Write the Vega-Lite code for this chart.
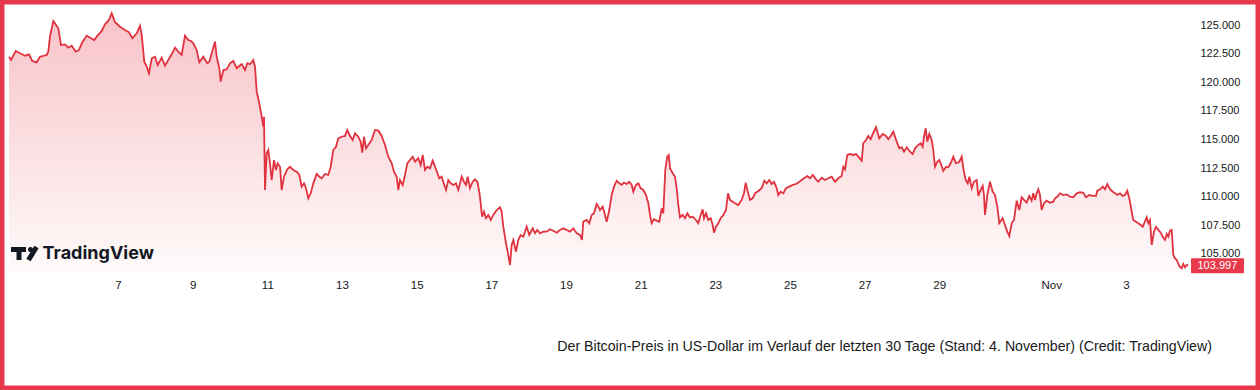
{
  "$schema": "https://vega.github.io/schema/vega-lite/v6.json",
  "width": 1260,
  "height": 390,
  "autosize": {"type": "none"},
  "padding": 0,
  "background": "white",
  "config": {
    "view": {"stroke": "#e8394a", "strokeWidth": 9},
    "axis": {"domain": false, "ticks": false, "grid": false, "labelColor": "#131722", "labelFont": "Liberation Sans"}
  },
  "data": {"values": [
    {"d":4.08,"p":122230},{"d":4.134,"p":121940},{"d":4.26,"p":122730},{"d":4.375,"p":122530},{"d":4.509,"p":122320},{"d":4.616,"p":122440},{"d":4.704,"p":121860},{"d":4.822,"p":121740},{"d":4.91,"p":122230},{"d":5.09,"p":122380},{"d":5.133,"p":122670},{"d":5.178,"p":123980},{"d":5.267,"p":125350},{"d":5.401,"p":124710},{"d":5.473,"p":123250},{"d":5.58,"p":123310},{"d":5.669,"p":123020},{"d":5.76,"p":123190},{"d":5.867,"p":122670},{"d":5.955,"p":122820},{"d":6.044,"p":123490},{"d":6.161,"p":124070},{"d":6.277,"p":123840},{"d":6.365,"p":123690},{"d":6.43,"p":123980},{"d":6.563,"p":124480},{"d":6.652,"p":125060},{"d":6.759,"p":125440},{"d":6.831,"p":126020},{"d":6.92,"p":125240},{"d":7.054,"p":124850},{"d":7.188,"p":124560},{"d":7.295,"p":124360},{"d":7.383,"p":123840},{"d":7.501,"p":124280},{"d":7.589,"p":124940},{"d":7.635,"p":124130},{"d":7.704,"p":121800},{"d":7.769,"p":121360},{"d":7.83,"p":120780},{"d":7.903,"p":122090},{"d":7.991,"p":122230},{"d":8.063,"p":121510},{"d":8.171,"p":122140},{"d":8.259,"p":121450},{"d":8.347,"p":121940},{"d":8.439,"p":122440},{"d":8.527,"p":123020},{"d":8.615,"p":122670},{"d":8.706,"p":122380},{"d":8.795,"p":124070},{"d":8.883,"p":123690},{"d":8.956,"p":123600},{"d":9.017,"p":123400},{"d":9.108,"p":122820},{"d":9.178,"p":121740},{"d":9.285,"p":122230},{"d":9.392,"p":121660},{"d":9.446,"p":121800},{"d":9.537,"p":122820},{"d":9.598,"p":123540},{"d":9.644,"p":122230},{"d":9.714,"p":121220},{"d":9.751,"p":120050},{"d":9.821,"p":121070},{"d":9.912,"p":121130},{"d":10.0,"p":121660},{"d":10.089,"p":121860},{"d":10.18,"p":121220},{"d":10.249,"p":121420},{"d":10.314,"p":121590},{"d":10.402,"p":121070},{"d":10.464,"p":121660},{"d":10.536,"p":121570},{"d":10.624,"p":121940},{"d":10.67,"p":121360},{"d":10.716,"p":119180},{"d":10.785,"p":118160},{"d":10.849,"p":116990},{"d":10.892,"p":116120},{"d":10.911,"p":116990},{"d":10.938,"p":110590},{"d":10.983,"p":113790},{"d":11.026,"p":114080},{"d":11.072,"p":112920},{"d":11.117,"p":111460},{"d":11.179,"p":113210},{"d":11.232,"p":112340},{"d":11.278,"p":112920},{"d":11.34,"p":112620},{"d":11.385,"p":110590},{"d":11.447,"p":111750},{"d":11.535,"p":112400},{"d":11.608,"p":112620},{"d":11.696,"p":112340},{"d":11.787,"p":112190},{"d":11.857,"p":111900},{"d":11.921,"p":110880},{"d":11.983,"p":111170},{"d":12.036,"p":110740},{"d":12.098,"p":109860},{"d":12.162,"p":110300},{"d":12.232,"p":111170},{"d":12.323,"p":111990},{"d":12.392,"p":111750},{"d":12.456,"p":111610},{"d":12.545,"p":111990},{"d":12.633,"p":111900},{"d":12.698,"p":112620},{"d":12.767,"p":114080},{"d":12.84,"p":114370},{"d":12.901,"p":115100},{"d":12.992,"p":115240},{"d":13.081,"p":115310},{"d":13.142,"p":115830},{"d":13.215,"p":115310},{"d":13.287,"p":114960},{"d":13.349,"p":115540},{"d":13.437,"p":115240},{"d":13.501,"p":114810},{"d":13.544,"p":113850},{"d":13.59,"p":115240},{"d":13.643,"p":114230},{"d":13.705,"p":114520},{"d":13.796,"p":114960},{"d":13.884,"p":115830},{"d":13.973,"p":115770},{"d":14.064,"p":115310},{"d":14.152,"p":114520},{"d":14.241,"p":113500},{"d":14.332,"p":112920},{"d":14.393,"p":112190},{"d":14.466,"p":111750},{"d":14.508,"p":110590},{"d":14.554,"p":111460},{"d":14.626,"p":111030},{"d":14.688,"p":111900},{"d":14.75,"p":112920},{"d":14.822,"p":113210},{"d":14.894,"p":113500},{"d":14.956,"p":113060},{"d":15.044,"p":113360},{"d":15.109,"p":112770},{"d":15.162,"p":113650},{"d":15.224,"p":112340},{"d":15.285,"p":112620},{"d":15.358,"p":112480},{"d":15.43,"p":113150},{"d":15.518,"p":112400},{"d":15.607,"p":111610},{"d":15.671,"p":111750},{"d":15.741,"p":111030},{"d":15.786,"p":110590},{"d":15.848,"p":111460},{"d":15.912,"p":111170},{"d":15.982,"p":111030},{"d":16.054,"p":111170},{"d":16.116,"p":110590},{"d":16.207,"p":111750},{"d":16.268,"p":111310},{"d":16.322,"p":111030},{"d":16.367,"p":111750},{"d":16.429,"p":110740},{"d":16.502,"p":111310},{"d":16.563,"p":111520},{"d":16.625,"p":111310},{"d":16.678,"p":110440},{"d":16.716,"p":109430},{"d":16.751,"p":108260},{"d":16.804,"p":108690},{"d":16.858,"p":108120},{"d":16.919,"p":108410},{"d":16.984,"p":107970},{"d":17.053,"p":108410},{"d":17.144,"p":108840},{"d":17.233,"p":109080},{"d":17.278,"p":108690},{"d":17.321,"p":107380},{"d":17.394,"p":105930},{"d":17.455,"p":104910},{"d":17.501,"p":104040},{"d":17.546,"p":105790},{"d":17.589,"p":106220},{"d":17.661,"p":105200},{"d":17.723,"p":106220},{"d":17.788,"p":106660},{"d":17.857,"p":106510},{"d":17.948,"p":107380},{"d":18.018,"p":106660},{"d":18.109,"p":107240},{"d":18.171,"p":106810},{"d":18.232,"p":107100},{"d":18.305,"p":106810},{"d":18.393,"p":106950},{"d":18.484,"p":106950},{"d":18.572,"p":107160},{"d":18.661,"p":107030},{"d":18.752,"p":106860},{"d":18.84,"p":107100},{"d":18.929,"p":107240},{"d":19.02,"p":107100},{"d":19.108,"p":106950},{"d":19.197,"p":107240},{"d":19.288,"p":106810},{"d":19.376,"p":106660},{"d":19.43,"p":106220},{"d":19.464,"p":107820},{"d":19.556,"p":107970},{"d":19.625,"p":107680},{"d":19.689,"p":108410},{"d":19.751,"p":108550},{"d":19.823,"p":109370},{"d":19.893,"p":108990},{"d":19.912,"p":108840},{"d":19.984,"p":109130},{"d":20.046,"p":108410},{"d":20.091,"p":107820},{"d":20.161,"p":108840},{"d":20.225,"p":110150},{"d":20.287,"p":110880},{"d":20.359,"p":111400},{"d":20.429,"p":111170},{"d":20.493,"p":111030},{"d":20.555,"p":111230},{"d":20.627,"p":111110},{"d":20.697,"p":111310},{"d":20.761,"p":111030},{"d":20.804,"p":110440},{"d":20.876,"p":111030},{"d":20.938,"p":111170},{"d":21.002,"p":110740},{"d":21.072,"p":110590},{"d":21.144,"p":110150},{"d":21.206,"p":109430},{"d":21.251,"p":108410},{"d":21.296,"p":107680},{"d":21.358,"p":108030},{"d":21.43,"p":107910},{"d":21.5,"p":107820},{"d":21.565,"p":108990},{"d":21.607,"p":108550},{"d":21.661,"p":112340},{"d":21.714,"p":113500},{"d":21.752,"p":113650},{"d":21.787,"p":112480},{"d":21.859,"p":112050},{"d":21.92,"p":111750},{"d":21.966,"p":110740},{"d":22.009,"p":109280},{"d":22.055,"p":108200},{"d":22.127,"p":108410},{"d":22.189,"p":108120},{"d":22.25,"p":108550},{"d":22.322,"p":108200},{"d":22.395,"p":108260},{"d":22.483,"p":107970},{"d":22.545,"p":107680},{"d":22.609,"p":108410},{"d":22.663,"p":108900},{"d":22.698,"p":108120},{"d":22.752,"p":108550},{"d":22.813,"p":107970},{"d":22.877,"p":108120},{"d":22.931,"p":107530},{"d":22.966,"p":106860},{"d":23.019,"p":107380},{"d":23.081,"p":107680},{"d":23.145,"p":108120},{"d":23.215,"p":108410},{"d":23.287,"p":108840},{"d":23.341,"p":110300},{"d":23.394,"p":109720},{"d":23.467,"p":109570},{"d":23.528,"p":109430},{"d":23.617,"p":109280},{"d":23.707,"p":109720},{"d":23.769,"p":110300},{"d":23.815,"p":111230},{"d":23.858,"p":110590},{"d":23.93,"p":109720},{"d":24.002,"p":109860},{"d":24.064,"p":110300},{"d":24.152,"p":110500},{"d":24.243,"p":110740},{"d":24.313,"p":111400},{"d":24.377,"p":111170},{"d":24.447,"p":111460},{"d":24.511,"p":111110},{"d":24.573,"p":111310},{"d":24.645,"p":110740},{"d":24.688,"p":110150},{"d":24.752,"p":110440},{"d":24.822,"p":110300},{"d":24.894,"p":110740},{"d":24.983,"p":110880},{"d":25.074,"p":111030},{"d":25.162,"p":111110},{"d":25.251,"p":111310},{"d":25.377,"p":111610},{"d":25.465,"p":111810},{"d":25.537,"p":111610},{"d":25.61,"p":111900},{"d":25.698,"p":111520},{"d":25.76,"p":111310},{"d":25.851,"p":111660},{"d":25.939,"p":111460},{"d":26.028,"p":111610},{"d":26.118,"p":111750},{"d":26.207,"p":111310},{"d":26.296,"p":111610},{"d":26.386,"p":111810},{"d":26.429,"p":112620},{"d":26.475,"p":112400},{"d":26.536,"p":113650},{"d":26.608,"p":113730},{"d":26.697,"p":113650},{"d":26.77,"p":113730},{"d":26.831,"p":113500},{"d":26.922,"p":113150},{"d":26.965,"p":114670},{"d":27.038,"p":114960},{"d":27.099,"p":115310},{"d":27.163,"p":115020},{"d":27.233,"p":115590},{"d":27.305,"p":116070},{"d":27.394,"p":115100},{"d":27.485,"p":115480},{"d":27.573,"p":115310},{"d":27.635,"p":115020},{"d":27.699,"p":115310},{"d":27.769,"p":115680},{"d":27.86,"p":114810},{"d":27.93,"p":114230},{"d":27.994,"p":114320},{"d":28.055,"p":113930},{"d":28.128,"p":114320},{"d":28.216,"p":113930},{"d":28.288,"p":113730},{"d":28.35,"p":114230},{"d":28.438,"p":114520},{"d":28.503,"p":114670},{"d":28.556,"p":114370},{"d":28.591,"p":115240},{"d":28.637,"p":115980},{"d":28.68,"p":114810},{"d":28.733,"p":115480},{"d":28.797,"p":114960},{"d":28.841,"p":114080},{"d":28.886,"p":112620},{"d":28.948,"p":113060},{"d":29.0,"p":113210},{"d":29.065,"p":112690},{"d":29.108,"p":112250},{"d":29.181,"p":112620},{"d":29.242,"p":112570},{"d":29.306,"p":112920},{"d":29.376,"p":113500},{"d":29.448,"p":112920},{"d":29.537,"p":113060},{"d":29.601,"p":113500},{"d":29.644,"p":112480},{"d":29.708,"p":111460},{"d":29.762,"p":111170},{"d":29.805,"p":111750},{"d":29.869,"p":110740},{"d":29.931,"p":111310},{"d":30.003,"p":111460},{"d":30.046,"p":110070},{"d":30.11,"p":110590},{"d":30.164,"p":110940},{"d":30.198,"p":110150},{"d":30.225,"p":108410},{"d":30.287,"p":110150},{"d":30.359,"p":111310},{"d":30.431,"p":110440},{"d":30.493,"p":110150},{"d":30.555,"p":109130},{"d":30.608,"p":107680},{"d":30.699,"p":108120},{"d":30.761,"p":107530},{"d":30.822,"p":106950},{"d":30.876,"p":106570},{"d":30.94,"p":107680},{"d":31.002,"p":107970},{"d":31.074,"p":109660},{"d":31.144,"p":108840},{"d":31.208,"p":109950},{"d":31.27,"p":109720},{"d":31.341,"p":109480},{"d":31.411,"p":110070},{"d":31.475,"p":109660},{"d":31.519,"p":110300},{"d":31.564,"p":109720},{"d":31.61,"p":110300},{"d":31.653,"p":110650},{"d":31.698,"p":110150},{"d":31.744,"p":108840},{"d":31.806,"p":109430},{"d":31.877,"p":109660},{"d":31.966,"p":109480},{"d":32.055,"p":109570},{"d":32.1,"p":109860},{"d":32.162,"p":110000},{"d":32.234,"p":110300},{"d":32.323,"p":110150},{"d":32.413,"p":110210},{"d":32.502,"p":110000},{"d":32.59,"p":109950},{"d":32.681,"p":110300},{"d":32.77,"p":110390},{"d":32.858,"p":110350},{"d":32.931,"p":109950},{"d":33.019,"p":110150},{"d":33.11,"p":110070},{"d":33.198,"p":110070},{"d":33.234,"p":110530},{"d":33.307,"p":110650},{"d":33.379,"p":110880},{"d":33.44,"p":110650},{"d":33.502,"p":111110},{"d":33.574,"p":110650},{"d":33.647,"p":110440},{"d":33.708,"p":110300},{"d":33.77,"p":110150},{"d":33.841,"p":110300},{"d":33.914,"p":110070},{"d":33.975,"p":110150},{"d":34.037,"p":110530},{"d":34.091,"p":109860},{"d":34.155,"p":108690},{"d":34.198,"p":107970},{"d":34.27,"p":107820},{"d":34.332,"p":107680},{"d":34.396,"p":107530},{"d":34.45,"p":107380},{"d":34.511,"p":107820},{"d":34.557,"p":108200},{"d":34.6,"p":107680},{"d":34.645,"p":107970},{"d":34.691,"p":105790},{"d":34.752,"p":106950},{"d":34.806,"p":107380},{"d":34.868,"p":107100},{"d":34.932,"p":106860},{"d":34.986,"p":106510},{"d":35.047,"p":106220},{"d":35.093,"p":106750},{"d":35.136,"p":106510},{"d":35.18,"p":107030},{"d":35.226,"p":107100},{"d":35.269,"p":104910},{"d":35.314,"p":104620},{"d":35.36,"p":104480},{"d":35.43,"p":103950},{"d":35.494,"p":103750},{"d":35.537,"p":104130},{"d":35.582,"p":103840},{"d":35.628,"p":104040},{"d":35.671,"p":103997}
  ]},
  "layer": [
    {
      "mark": {"type": "area", "color": {"gradient": "linear", "x1": 0, "y1": 0, "x2": 0, "y2": 1, "stops": [{"offset": 0, "color": "#f8c3c8"}, {"offset": 1, "color": "#fefafa"}]}},
      "encoding": {
        "x": {"field": "d", "type": "quantitative", "scale": {"domain": [3.839, 37.592], "nice": false, "zero": false},
              "axis": {"orient": "bottom", "offset": -111, "values": [7,9,11,13,15,17,19,21,23,25,27,29,32,34], "labelExpr": "datum.value == 32 ? 'Nov' : (datum.value > 31 ? '' + (datum.value - 31) : '' + datum.value)", "labelFontSize": 11.5, "labelPadding": 0, "title": null, "labelOverlap": false, "labelFlush": false}},
        "y": {"field": "p", "type": "quantitative", "scale": {"domain": [93120, 127184], "nice": false, "zero": false},
              "axis": {"orient": "right", "offset": -62, "values": [105000,107500,110000,112500,115000,117500,120000,122500,125000], "labelExpr": "replace(format(datum.value, ',.0f'), ',', '.')", "labelFontSize": 11, "labelPadding": 2, "labelAlign": "left", "title": null, "labelOverlap": false, "labelFlush": false}},
        "y2": {"datum": 103430}
      }
    },
    {
      "mark": {"type": "line", "color": "#e0323f", "strokeWidth": 1.8},
      "encoding": {
        "x": {"field": "d", "type": "quantitative"},
        "y": {"field": "p", "type": "quantitative"}
      }
    },
    {
      "data": {"values": [{}]},
      "mark": {"type": "rule", "color": "#131722", "strokeWidth": 5, "strokeCap": "butt"},
      "encoding": {
        "x": {"datum": 4.134, "type": "quantitative"},
        "x2": {"datum": 4.535},
        "y": {"datum": 105390, "type": "quantitative"}
      }
    },
    {
      "data": {"values": [{}]},
      "mark": {"type": "rule", "color": "#131722", "strokeWidth": 5, "strokeCap": "butt"},
      "encoding": {
        "x": {"datum": 4.348, "type": "quantitative"},
        "y": {"datum": 105610, "type": "quantitative"},
        "y2": {"datum": 104476}
      }
    },
    {
      "data": {"values": [{}]},
      "mark": {"type": "rule", "color": "#131722", "strokeWidth": 5, "strokeCap": "butt"},
      "encoding": {
        "x": {"datum": 4.602, "type": "quantitative"},
        "x2": {"datum": 4.817},
        "y": {"datum": 104476, "type": "quantitative"},
        "y2": {"datum": 105611}
      }
    },
    {
      "data": {"values": [{}]},
      "mark": {"type": "point", "filled": true, "shape": "circle", "size": 25, "color": "#131722", "opacity": 1},
      "encoding": {
        "x": {"datum": 4.656, "type": "quantitative"},
        "y": {"datum": 105392, "type": "quantitative"}
      }
    },
    {
      "data": {"values": [{"t": "TradingView"}]},
      "mark": {"type": "text", "font": "Inter", "fontSize": 18, "fontWeight": 700, "color": "#131722", "align": "left", "baseline": "alphabetic"},
      "encoding": {
        "text": {"field": "t"},
        "x": {"datum": 4.98, "type": "quantitative"},
        "y": {"datum": 104519, "type": "quantitative"}
      }
    },
    {
      "data": {"values": [{}]},
      "mark": {"type": "rect", "color": "#e8394a", "cornerRadius": 1},
      "encoding": {
        "x": {"datum": 35.744, "type": "quantitative"},
        "x2": {"datum": 37.163},
        "y": {"datum": 104624, "type": "quantitative"},
        "y2": {"datum": 103314}
      }
    },
    {
      "data": {"values": [{"label": "103.997"}]},
      "mark": {"type": "text", "font": "Liberation Sans", "fontSize": 11, "color": "white", "align": "center", "baseline": "middle"},
      "encoding": {
        "text": {"field": "label"},
        "x": {"datum": 36.45, "type": "quantitative"},
        "y": {"datum": 103970, "type": "quantitative"}
      }
    },
    {
      "data": {"values": [{"t": "Der Bitcoin-Preis in US-Dollar im Verlauf der letzten 30 Tage (Stand: 4. November) (Credit: TradingView)"}]},
      "mark": {"type": "text", "font": "Liberation Sans", "fontSize": 14.2, "color": "#1a1a1a", "align": "right", "baseline": "middle"},
      "encoding": {
        "text": {"field": "t"},
        "x": {"datum": 36.306, "type": "quantitative"},
        "y": {"datum": 96870, "type": "quantitative"}
      }
    }
  ]
}
